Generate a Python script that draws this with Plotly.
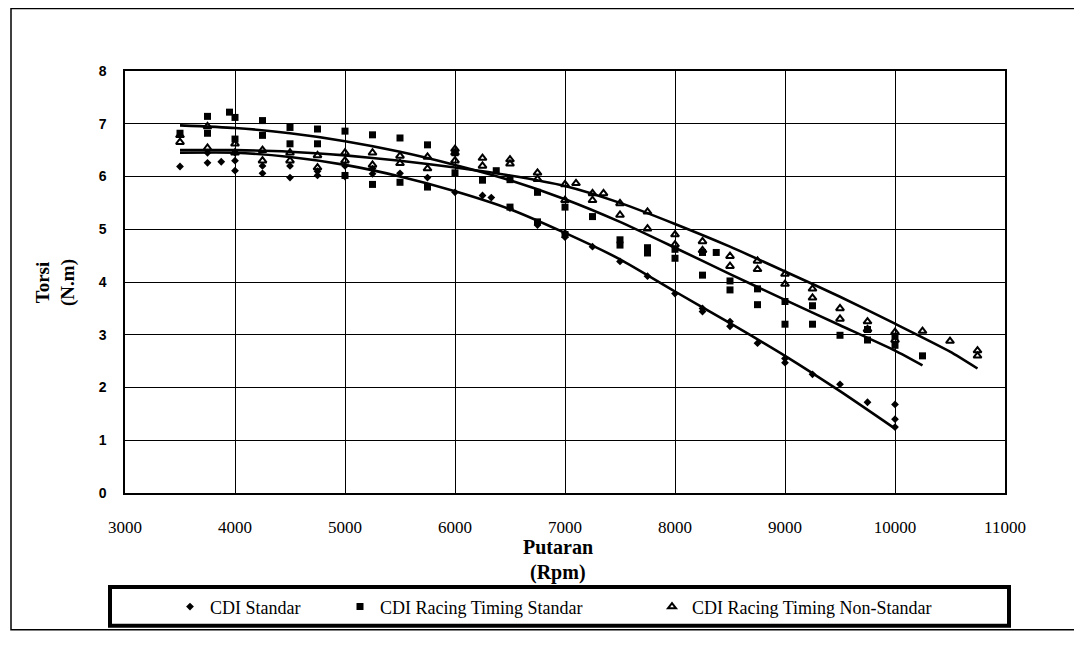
import plotly.graph_objects as go

# ---------------- data ----------------
std_rpm = [3500, 3750, 3750, 3875, 4000, 4000, 4000, 4250, 4250, 4500, 4500, 4750, 4750,
           5000, 5000, 5250, 5250, 5500, 5750, 6000, 6250, 6330, 6500, 6750, 7000, 7000,
           7250, 7500, 7750, 8000, 8250, 8250, 8500, 8500, 8750, 9000, 9000, 9250, 9500,
           9750, 10000, 10000, 10000]
std_torque = [6.19, 6.26, 6.45, 6.28, 6.11, 6.30, 6.45, 6.20, 6.06, 6.20, 5.98, 6.02, 6.10,
              6.00, 6.20, 6.15, 6.05, 6.06, 5.98, 5.70, 5.64, 5.60, 5.40, 5.08, 4.93, 4.85,
              4.67, 4.39, 4.11, 3.78, 3.44, 3.50, 3.16, 3.25, 2.84, 2.47, 2.55, 2.25, 2.06,
              1.72, 1.68, 1.40, 1.25]

rts_rpm = [3500, 3750, 3750, 3950, 4000, 4000, 4250, 4250, 4500, 4500, 4750, 4750, 5000,
           5000, 5250, 5250, 5500, 5500, 5750, 5750, 6000, 6000, 6250, 6375, 6500, 6500,
           6750, 6750, 7000, 7000, 7250, 7500, 7500, 7750, 7750, 8000, 8000, 8250, 8250,
           8375, 8500, 8500, 8750, 8750, 9000, 9000, 9250, 9250, 9500, 9750, 9750, 10000,
           10000, 10250]
rts_torque = [6.82, 7.14, 6.82, 7.22, 7.12, 6.71, 7.06, 6.78, 6.93, 6.62, 6.90, 6.62, 6.86,
              6.02, 6.79, 5.85, 6.73, 5.89, 6.60, 5.80, 6.45, 6.07, 5.93, 6.11, 5.94, 5.42,
              5.70, 5.14, 5.42, 4.90, 5.24, 4.80, 4.70, 4.65, 4.55, 4.62, 4.45, 4.56, 4.13,
              4.56, 4.02, 3.85, 3.87, 3.57, 3.63, 3.20, 3.55, 3.20, 2.99, 3.10, 2.90, 2.97,
              2.80, 2.60]

rtn_rpm = [3500, 3500, 3750, 3750, 4000, 4000, 4250, 4250, 4500, 4500, 4750, 4750, 5000,
           5000, 5250, 5250, 5500, 5500, 5750, 5750, 6000, 6000, 6000, 6250, 6250, 6500,
           6500, 6750, 6750, 7000, 7000, 7100, 7250, 7250, 7350, 7500, 7500, 7750, 7750,
           8000, 8000, 8250, 8250, 8500, 8500, 8750, 8750, 9000, 9000, 9250, 9250, 9500,
           9500, 9750, 9750, 10000, 10000, 10250, 10500, 10750, 10750]
rtn_torque = [6.65, 6.78, 6.54, 6.95, 6.45, 6.62, 6.30, 6.50, 6.30, 6.45, 6.17, 6.40, 6.30,
              6.45, 6.45, 6.22, 6.39, 6.25, 6.37, 6.15, 6.45, 6.30, 6.52, 6.35, 6.20, 6.24,
              6.32, 6.07, 5.95, 5.55, 5.85, 5.87, 5.68, 5.55, 5.68, 5.49, 5.27, 5.33, 5.01,
              4.71, 4.90, 4.77, 4.60, 4.49, 4.30, 4.24, 4.40, 3.96, 4.15, 3.87, 3.70, 3.50,
              3.30, 3.25, 3.10, 3.05, 2.90, 3.07, 2.88, 2.60, 2.70]

# trend lines
std_fit_rpm = [3500, 4000, 4500, 5000, 5500, 6000, 6500, 7000, 7500, 8000, 8500, 9000, 9500, 10000]
std_fit_t = [6.45, 6.45, 6.37, 6.22, 6.00, 5.72, 5.38, 4.93, 4.43, 3.82, 3.22, 2.60, 1.93, 1.22]

rts_fit_rpm = [3500, 4000, 4500, 5000, 5500, 6000, 6500, 7000, 7500, 8000, 8500, 9000, 9500, 10000, 10250]
rts_fit_t = [6.97, 6.92, 6.82, 6.67, 6.47, 6.22, 5.93, 5.57, 5.14, 4.65, 4.15, 3.66, 3.18, 2.70, 2.42]

rtn_fit_rpm = [3500, 4000, 4500, 5000, 5500, 6000, 6500, 7000, 7500, 8000, 8500, 9000, 9500, 10000, 10500, 10750]
rtn_fit_t = [6.50, 6.50, 6.47, 6.40, 6.30, 6.17, 6.02, 5.82, 5.50, 5.10, 4.67, 4.20, 3.72, 3.21, 2.68, 2.36]

names = ["CDI Standar", "CDI Racing Timing Standar", "CDI Racing Timing Non-Standar"]
x_ticks = [3000, 4000, 5000, 6000, 7000, 8000, 9000, 10000, 11000]
y_ticks = [0, 1, 2, 3, 4, 5, 6, 7, 8]

# ---------------- figure ----------------
OFF = 8                      # page body margin
W, H = 1082 - 2 * OFF, 645 - 2 * OFF
ML = 125 - OFF
MT = 71 - OFF
PR = 1005 - OFF              # plot right (figure px)
PB = 497 - OFF               # plot bottom (figure px)
MR = W - PR
MB = H - PB
PW, PH = PR - ML, PB - MT


def px(xp):
    """page x pixel -> paper x"""
    return (xp - OFF - ML) / PW


def py(yp):
    """page y pixel -> paper y"""
    return 1 - (yp - OFF - MT) / PH


fig = go.Figure()

line_style = dict(color="black", width=2.6, shape="spline", smoothing=0.6)
for fr, ft in [(std_fit_rpm, std_fit_t), (rts_fit_rpm, rts_fit_t), (rtn_fit_rpm, rtn_fit_t)]:
    fig.add_trace(go.Scatter(x=fr, y=ft, mode="lines", line=line_style,
                             showlegend=False, hoverinfo="skip"))

fig.add_trace(go.Scatter(x=std_rpm, y=std_torque, mode="markers", name=names[0],
                         marker=dict(symbol="diamond", size=6, color="black"),
                         legend="legend"))
fig.add_trace(go.Scatter(x=rts_rpm, y=rts_torque, mode="markers", name=names[1],
                         marker=dict(symbol="square", size=7, color="black"),
                         legend="legend2"))
fig.add_trace(go.Scatter(x=rtn_rpm, y=rtn_torque, mode="markers", name=names[2],
                         marker=dict(symbol="triangle-up-open", size=7, color="black",
                                     line=dict(width=2, color="black")),
                         legend="legend3"))

serif = "Liberation Serif, Times New Roman, DejaVu Serif, serif"
leg_common = dict(orientation="h", yanchor="middle", xanchor="left", y=py(612),
                  bgcolor="rgba(0,0,0,0)", borderwidth=0,
                  font=dict(family=serif, size=18, color="black"))

fig.update_layout(
    width=W, height=H,
    margin=dict(l=ML, r=MR, t=MT, b=MB),
    paper_bgcolor="white", plot_bgcolor="white",
    xaxis=dict(range=[3000, 11000], tickvals=x_ticks, ticktext=[str(v) for v in x_ticks],
               showgrid=True, gridcolor="black", gridwidth=1.2,
               showline=True, linecolor="black", linewidth=1.5, mirror=True,
               ticks="", zeroline=False, ticklabelstandoff=18,
               tickfont=dict(family=serif, size=17, color="black")),
    yaxis=dict(range=[0, 8], tickvals=y_ticks, ticktext=[str(v) for v in y_ticks],
               showgrid=True, gridcolor="black", gridwidth=1.2,
               showline=True, linecolor="black", linewidth=1.5, mirror=True,
               ticks="", zeroline=False, ticklabelstandoff=14,
               tickfont=dict(family="Liberation Sans", size=14, color="black", weight="bold")),
    legend=dict(x=px(170), **leg_common),
    legend2=dict(x=px(340), **leg_common),
    legend3=dict(x=px(652), **leg_common),
    annotations=[
        dict(text="<b>Torsi</b><br><b>(N.m)</b>", textangle=-90, xref="paper", yref="paper",
             x=px(56), y=py(285), xanchor="center", yanchor="middle", showarrow=False,
             font=dict(family=serif, size=19, color="black")),
        dict(text="<b>Putaran</b>", xref="paper", yref="paper", x=px(558), y=py(552),
             xanchor="center", yanchor="middle", showarrow=False,
             font=dict(family=serif, size=20, color="black")),
        dict(text="<b>(Rpm)</b>", xref="paper", yref="paper", x=px(558), y=py(577),
             xanchor="center", yanchor="middle", showarrow=False,
             font=dict(family=serif, size=20, color="black")),
    ],
    shapes=[
        dict(type="rect", xref="paper", yref="paper", x0=px(11), x1=px(1100),
             y0=py(635), y1=py(8), line=dict(color="black", width=1.5)),
        dict(type="rect", xref="paper", yref="paper", x0=px(110), x1=px(1009),
             y0=py(631), y1=py(592), line=dict(color="black", width=4)),
    ],
)

fig.write_html("out.html")
